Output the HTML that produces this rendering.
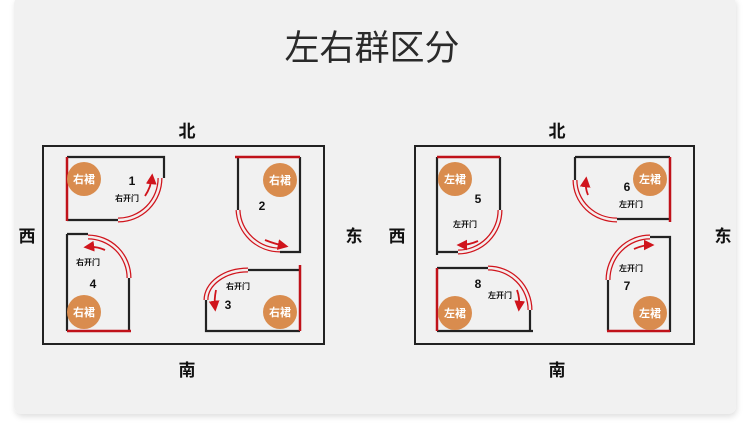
<!DOCTYPE html><html><head><meta charset="utf-8"><style>
body{margin:0;width:750px;height:446px;background:#fff;overflow:hidden}
svg{display:block}
text{font-family:"Liberation Sans","Noto Sans CJK SC",sans-serif}
</style></head><body>
<svg width="750" height="446" viewBox="0 0 750 446">
<defs>
<filter id="sh" x="-5%" y="-5%" width="110%" height="115%"><feDropShadow dx="1" dy="3" stdDeviation="3" flood-color="#000" flood-opacity="0.12"/></filter>
<marker id="ar" markerWidth="6" markerHeight="6" refX="4" refY="3" orient="auto"><path d="M0,0 L6,3 L0,6 z" fill="#d0141c"/></marker>
</defs>
<rect x="14" y="-4" width="722" height="418" rx="8" fill="#f1f1f1" filter="url(#sh)"/>
<text x="372" y="60" font-size="35" text-anchor="middle" fill="#2a2a2a" font-family="Noto Sans CJK SC,sans-serif">左右群区分</text>
<g font-size="17" font-weight="bold" fill="#111" text-anchor="middle">
<text x="187" y="137">北</text><text x="187" y="376">南</text><text x="27" y="242">西</text><text x="354" y="242">东</text>
<text x="557" y="137">北</text><text x="557" y="376">南</text><text x="397" y="242">西</text><text x="723" y="242">东</text>
</g>
<g fill="none" stroke="#222" stroke-width="2">
<rect x="43" y="146" width="281" height="198"/>
<rect x="415" y="146" width="279" height="198"/>
</g>
<!-- walls black -->
<g fill="none" stroke="#222" stroke-width="2.2">
<path d="M67,157H164V178"/><path d="M67,220H118"/>
<path d="M238,157V210"/><path d="M280,252H300V157"/>
<path d="M67,234H88"/><path d="M67,234V331"/><path d="M129,278V331"/>
<path d="M248,270H300"/><path d="M206,300V331H300"/>
<path d="M500,157V210"/><path d="M437,157V255"/><path d="M437,252H458"/>
<path d="M575,157H670"/><path d="M575,157V180"/><path d="M617,219H670"/>
<path d="M650,237H670V332"/><path d="M608,280V331"/>
<path d="M437,268H488"/><path d="M437,331H533"/><path d="M530,310V331"/>
</g>
<!-- walls red -->
<g fill="none" stroke="#c0121a" stroke-width="2.5">
<path d="M67,157V221"/><path d="M235,157H300"/><path d="M67,331H131"/><path d="M300,265V331"/>
<path d="M437,157H500"/><path d="M670,157V222"/><path d="M607,331H670"/><path d="M437,268V331"/>
</g>
<!-- glass arcs -->
<g fill="none" stroke="#d0141c" stroke-width="5">
<path d="M118,220A42,42 0 0 0 160,178"/><path d="M238,210A42,42 0 0 0 280,250"/>
<path d="M88,237A41,41 0 0 1 129,278"/><path d="M206,300A42,30 0 0 1 248,270"/>
<path d="M500,210A42,42 0 0 1 458,252"/><path d="M575,180A42,40 0 0 0 617,220"/>
<path d="M608,280A42,43 0 0 1 650,237"/><path d="M488,268A42,42 0 0 1 530,310"/>
</g>
<g fill="none" stroke="#f4eeee" stroke-width="2.5">
<path d="M118,220A42,42 0 0 0 160,178"/><path d="M238,210A42,42 0 0 0 280,250"/>
<path d="M88,237A41,41 0 0 1 129,278"/><path d="M206,300A42,30 0 0 1 248,270"/>
<path d="M500,210A42,42 0 0 1 458,252"/><path d="M575,180A42,40 0 0 0 617,220"/>
<path d="M608,280A42,43 0 0 1 650,237"/><path d="M488,268A42,42 0 0 1 530,310"/>
</g>
<!-- arrows -->
<g fill="none" stroke="#d0141c" stroke-width="1.8" marker-end="url(#ar)">
<path d="M145,196Q151,187 152,177"/><path d="M265,240Q275,244 285,246"/>
<path d="M105,250Q96,246 87,247"/><path d="M216,290Q214,300 215,308"/>
<path d="M478,241Q469,245 460,245"/><path d="M588,195Q585,188 586,180"/>
<path d="M634,249Q643,245 651,245"/><path d="M517,290Q520,298 519,308"/>
</g>
<!-- circles -->
<g fill="#d98c4e">
<circle cx="84" cy="179" r="17"/><circle cx="280" cy="180" r="17"/><circle cx="84" cy="312" r="17"/><circle cx="280" cy="312" r="17"/>
<circle cx="455" cy="179" r="17"/><circle cx="650" cy="179" r="17"/><circle cx="650" cy="313" r="17"/><circle cx="455" cy="313" r="17"/>
</g>
<g font-size="11" font-weight="bold" fill="#fff" text-anchor="middle">
<text x="84" y="183">右裙</text><text x="280" y="184">右裙</text><text x="84" y="316">右裙</text><text x="280" y="316">右裙</text>
<text x="455" y="183">左裙</text><text x="650" y="183">左裙</text><text x="650" y="317">左裙</text><text x="455" y="317">左裙</text>
</g>
<g font-size="12" font-weight="bold" fill="#111" text-anchor="middle">
<text x="132" y="185">1</text><text x="262" y="210">2</text><text x="228" y="309">3</text><text x="93" y="288">4</text>
<text x="478" y="203">5</text><text x="627" y="191">6</text><text x="627" y="290">7</text><text x="478" y="288">8</text>
</g>
<g font-size="8" font-weight="bold" fill="#111" text-anchor="middle">
<text x="127" y="201">右开门</text><text x="88" y="265">右开门</text><text x="238" y="289">右开门</text>
<text x="465" y="227">左开门</text><text x="631" y="207">左开门</text><text x="631" y="271">左开门</text><text x="500" y="298">左开门</text>
</g>
</svg>
</body></html>
